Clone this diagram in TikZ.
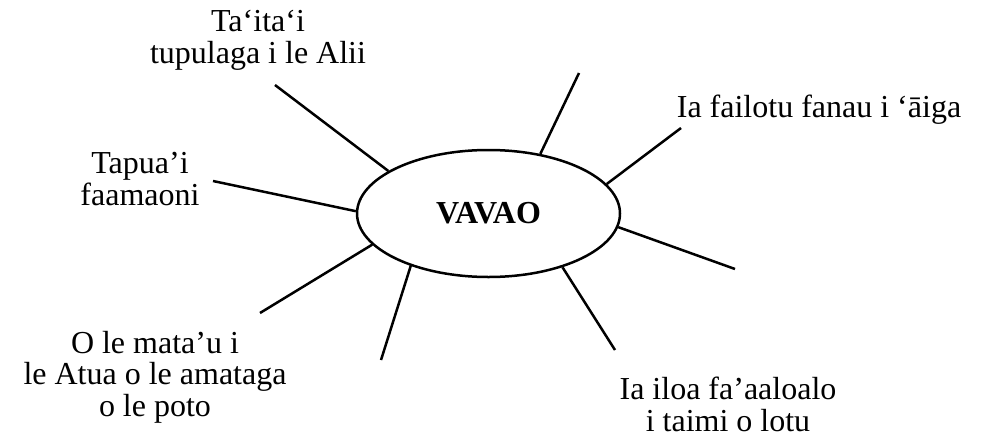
\documentclass[tikz,border=0pt]{standalone}
\usepackage{fontspec}
\setmainfont{Liberation Serif}
\usetikzlibrary{shapes.geometric}
\begin{document}
\begin{tikzpicture}[x=1pt,y=-1pt,
  lbl/.style={font=\fontsize{32}{31.5}\selectfont, align=center, inner sep=0pt, anchor=base},
  spoke/.style={line width=2.5pt},
  hub/.style={ellipse, draw, line width=2.5pt, minimum width=263pt, minimum height=127pt, inner sep=0pt,
    font=\fontsize{32}{31}\selectfont\bfseries}]
\useasboundingbox (0,0) rectangle (984,439);
\node[hub] (vav) at (488.5,213.5) {VAVAO};
\node[lbl] (t1) at (258,63) {Ta‘ita‘i\\tupulaga i le Alii};
\node[lbl] (t2) at (140,205) {Tapua’i\\faamaoni};
\node[lbl] (t3) at (819,117) {Ia failotu fanau i ‘āiga};
\node[lbl] (t4) at (155,416) {O le mata’u i\\le Atua o le amataga\\o le poto};
\node[lbl] (t5) at (728,431) {Ia iloa fa’aaloalo\\i taimi o lotu};
\coordinate (e1) at (275,85);
\coordinate (e2) at (213,181);
\coordinate (e3) at (260,313);
\coordinate (e4) at (381,360);
\coordinate (e5) at (579,73);
\coordinate (e6) at (681,128);
\coordinate (e7) at (735,269);
\coordinate (e8) at (615,350);
\draw[spoke] (vav.157) -- (e1);
\draw[spoke] (vav.179) -- (e2);
\draw[spoke] (vav.195) -- (e3);
\draw[spoke] (vav.214) -- (e4);
\draw[spoke] (vav.49) -- (e5);
\draw[spoke] (vav.14) -- (e6);
\draw[spoke] (vav.354) -- (e7);
\draw[spoke] (vav.324) -- (e8);
\end{tikzpicture}
\end{document}
